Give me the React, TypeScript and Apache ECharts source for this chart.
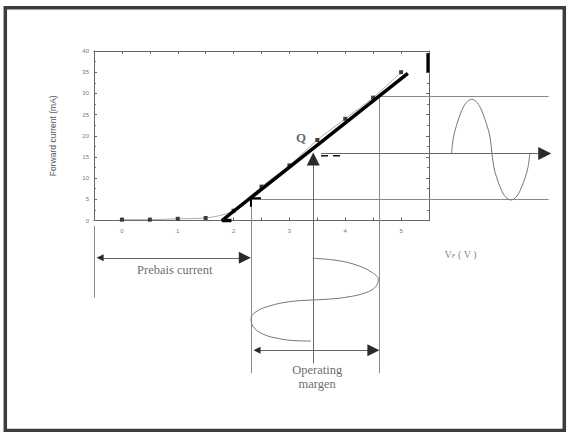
import { useEffect, useRef } from "react";
import * as echarts from "echarts";

// Measured LED characteristic: forward voltage (V) vs forward current (mA)
const curveV = [0, 0.5, 1, 1.5, 2, 2.5, 3, 3.5, 4, 4.5, 5];
const curveI = [0.2, 0.2, 0.4, 0.6, 2.3, 8, 13, 19, 24, 29, 35];

// Straight-line approximation of the characteristic
const loadV = [1.97, 1.8, 5.14];
const loadI = [0, 0, 34.7];

// Short bold mark on the right frame
const edgeV = [5.5, 5.5];
const edgeI = [35, 39.5];

// Output current swing (time runs left to right)
const outWaveV = [5.925, 5.96, 6.014, 6.103, 6.193, 6.288, 6.383, 6.472, 6.562, 6.616, 6.652, 6.686, 6.736, 6.82, 6.902, 6.992, 7.081, 7.164, 7.248, 7.298, 7.332];
const outWaveI = [15.81, 19.7, 22.42, 25.79, 27.85, 28.6, 27.85, 25.79, 22.42, 19.7, 15.81, 12.48, 10.15, 7.24, 5.47, 4.84, 5.47, 7.24, 10.15, 12.48, 15.81];

// Input voltage swing (time runs downwards)
const inWaveV = [3.428, 3.905, 4.264, 4.502, 4.61, 4.563, 4.384, 4.026, 3.668, 3.417, 3.01, 2.652, 2.414, 2.324, 2.353, 2.532, 2.831, 3.13, 3.399];
const inWaveI = [-8.92, -9.49, -10.74, -12.32, -13.88, -15.62, -17.04, -18.12, -18.6, -18.76, -19.16, -20.18, -21.52, -23.08, -24.9, -26.78, -27.89, -28.37, -28.44];

// Projection levels
const peakI = 29.4;
const biasI = 15.8;
const lowI = 5.0;
const lowV = 2.32;
const biasV = 3.44;
const highV = 4.63;
const leftV = -0.5;
const guideEndV = 7.67;
const bottomI = -36;

const xTicks = [0, 1, 2, 3, 4, 5];

const zip = (a: number[], b: number[]) => a.map((v, i) => [v, b[i]]);

export default function App() {
  const ref = useRef<HTMLDivElement>(null);

  useEffect(() => {
    if (!ref.current) return;
    const chart = echarts.init(ref.current, null, { renderer: "svg" });

    const frameAxis = {
      type: "value" as const,
      gridIndex: 0,
      axisLine: { show: true, onZero: false, lineStyle: { color: "#666", width: 1 } },
      axisTick: { show: true, inside: true, length: 3, lineStyle: { color: "#666" } },
      splitLine: { show: false },
    };

    const serif = "Liberation Serif";
    // annotation layer: same scale as the plot, extended over the whole figure
    const ann = { xAxisIndex: 2, yAxisIndex: 2, clip: false, silent: true };

    const singleArrows = [
      { coords: [[3.58, biasI], [7.6, biasI]] },
      { coords: [[biasV, -33.7], [biasV, 14.5]] },
    ];
    const doubleArrows = [
      { coords: [[-0.39, -8.8], [2.21, -8.8]] },
      { coords: [[2.43, -30.6], [4.52, -30.6]] },
    ];

    chart.setOption({
      animation: false,
      backgroundColor: "#fff",
      grid: [
        { left: 94, top: 51, width: 335, height: 169.5, containLabel: false },
        { left: 94, top: 51, width: 474.58, height: 339, containLabel: false },
      ],
      xAxis: [
        {
          ...frameAxis,
          position: "bottom",
          min: -0.5,
          max: 5.5,
          interval: 0.5,
          axisLabel: {
            fontSize: 6,
            color: "#777",
            margin: 7,
            formatter: (v: number) => (xTicks.includes(v) ? String(v) : ""),
          },
        },
        { ...frameAxis, position: "top", min: -0.5, max: 5.5, interval: 0.5, axisLabel: { show: false } },
        { type: "value", gridIndex: 1, min: -0.5, max: 8, show: false },
      ],
      yAxis: [
        {
          ...frameAxis,
          position: "left",
          min: 0,
          max: 40,
          interval: 5,
          minorTick: { show: true, splitNumber: 2, length: 2, lineStyle: { color: "#777" } },
          name: "Forward current (mA)",
          nameLocation: "middle",
          nameGap: 37,
          nameTextStyle: { fontSize: 8.5, color: "#555", fontFamily: "Liberation Sans" },
          axisLabel: { fontSize: 6, color: "#777", margin: 5 },
        },
        {
          ...frameAxis,
          position: "right",
          min: 0,
          max: 40,
          interval: 5,
          minorTick: { show: true, splitNumber: 2, length: 2, lineStyle: { color: "#777" } },
          axisLabel: { show: false },
        },
        { type: "value", gridIndex: 1, min: -40, max: 40, show: false },
      ],
      graphic: [
        {
          type: "rect",
          shape: { x: 5.3, y: 7.8, width: 559, height: 422.7 },
          style: { fill: "none", stroke: "#3c3c3c", lineWidth: 3.5 },
          silent: true,
        },
      ],
      series: [
        {
          type: "line",
          data: zip(curveV, curveI),
          smooth: 0.3,
          symbol: "rect",
          symbolSize: 4,
          itemStyle: { color: "#3a3a3a" },
          lineStyle: { color: "#aaa", width: 1 },
          z: 3,
        },
        {
          ...ann,
          type: "lines",
          coordinateSystem: "cartesian2d",
          lineStyle: { color: "#8a8a8a", width: 1, opacity: 1 },
          data: [
            { coords: [[highV, peakI], [guideEndV, peakI]] },
            { coords: [[lowV, lowI], [guideEndV, lowI]] },
            { coords: [[lowV, lowI], [lowV, bottomI]] },
            { coords: [[highV, peakI], [highV, bottomI]] },
            { coords: [[leftV, -1.3], [leftV, -18.2]] },
          ],
          z: 2,
        },
        {
          // arrow shafts
          ...ann,
          type: "lines",
          coordinateSystem: "cartesian2d",
          lineStyle: { color: "#666", width: 1, opacity: 1 },
          data: [...singleArrows, ...doubleArrows],
          z: 3,
        },
        {
          // single arrow heads
          ...ann,
          type: "lines",
          coordinateSystem: "cartesian2d",
          symbol: ["none", "triangle"],
          symbolSize: [8, 13],
          lineStyle: { color: "#2a2a2a", width: 0, opacity: 1 },
          data: singleArrows,
          z: 4,
        },
        {
          // double arrow heads
          ...ann,
          type: "lines",
          coordinateSystem: "cartesian2d",
          symbol: ["triangle", "triangle"],
          symbolSize: [7, 12],
          lineStyle: { color: "#2a2a2a", width: 0, opacity: 1 },
          data: doubleArrows,
          z: 4,
        },
        {
          ...ann,
          type: "line",
          data: zip(outWaveV, outWaveI),
          smooth: 0.35,
          symbol: "none",
          lineStyle: { color: "#777", width: 1 },
          z: 3,
        },
        {
          ...ann,
          type: "line",
          data: zip(inWaveV, inWaveI),
          smooth: 0.4,
          symbol: "none",
          lineStyle: { color: "#777", width: 1 },
          z: 3,
        },
        {
          ...ann,
          type: "line",
          data: [[3.58, 15.3], [4.0, 15.3]],
          symbol: "none",
          lineStyle: { color: "#111", width: 1.5, type: [7, 5] },
          z: 5,
        },
        {
          ...ann,
          type: "line",
          data: [[2.5, 5.24], [2.32, 5.24], [2.32, 3.26]],
          symbol: "none",
          lineStyle: { color: "#000", width: 2 },
          z: 5,
        },
        {
          ...ann,
          type: "line",
          data: zip(loadV, loadI),
          symbol: "none",
          lineStyle: { color: "#000", width: 3.5, cap: "butt" },
          z: 6,
        },
        {
          ...ann,
          type: "line",
          data: zip(edgeV, edgeI),
          symbol: "none",
          lineStyle: { color: "#000", width: 3 },
          z: 6,
        },
        {
          ...ann,
          type: "scatter",
          symbol: "circle",
          symbolSize: 1,
          itemStyle: { color: "rgba(0,0,0,0)" },
          label: { show: true, position: "inside", color: "#444", fontFamily: serif },
          z: 7,
          data: [
            { value: [0.95, -11.68], label: { formatter: "Prebais current", fontSize: 12.5 } },
            { value: [3.51, -37], label: { formatter: "Operating\nmargen", fontSize: 12.5, lineHeight: 14 } },
            {
              value: [6.09, -7.67],
              label: {
                formatter: "{a|V}{b|F}{a| ( V )}",
                rich: {
                  a: { fontSize: 10, color: "#666", fontFamily: serif, verticalAlign: "bottom", lineHeight: 12 },
                  b: { fontSize: 6.5, color: "#666", fontFamily: serif, verticalAlign: "bottom", lineHeight: 12 },
                },
              },
            },
            { value: [3.22, 19.47], label: { formatter: "Q", fontSize: 13, fontWeight: "bold", color: "#444" } },
          ],
        },
      ],
    });

    return () => chart.dispose();
  }, []);

  return (
    <div
      ref={ref}
      style={{ position: "fixed", left: 0, top: 0, width: 567, height: 432, background: "#fff" }}
    />
  );
}
